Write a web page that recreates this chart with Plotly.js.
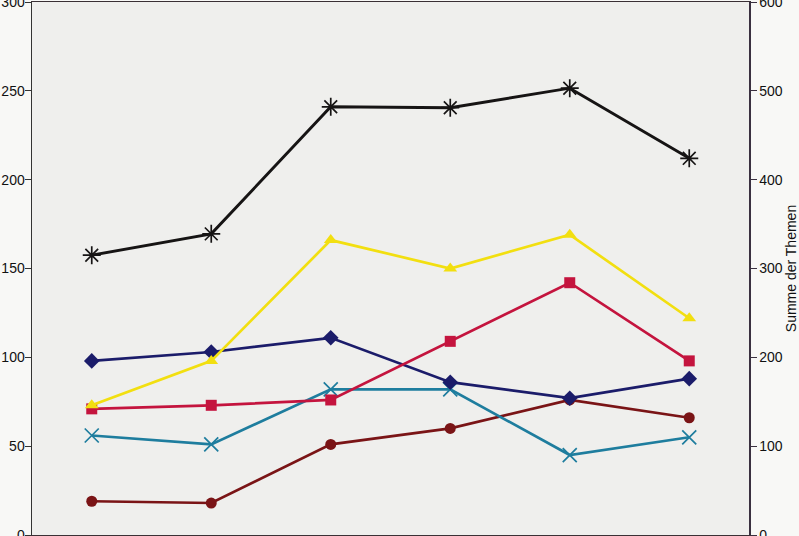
<!DOCTYPE html>
<html>
<head>
<meta charset="utf-8">
<script src="https://cdn.plot.ly/plotly-3.0.1.min.js"></script>
<style>
  html, body { margin: 0; padding: 0; overflow: hidden; background: #f8f8f6; }
  #chart { position: absolute; left: 0; top: 0; width: 799px; height: 560px; }
</style>
</head>
<body>
<div id="chart"></div>
<script>
// Categories (their labels lie outside the visible frame)
const categories = ["1", "2", "3", "4", "5", "6"];

// Series on the left axis
const navySeries    = [98, 103, 111, 86, 77, 88];
const yellowSeries  = [73, 98, 166, 150, 169, 122];
const redSeries     = [71, 73, 76, 109, 142, 98];
const tealSeries    = [56, 51, 82, 82, 45, 55];
const darkredSeries = [19, 18, 51, 60, 76, 66];

// Series on the right axis ("Summe der Themen")
const sumSeries = [315, 339, 482, 481, 503, 424];

const leftTicks  = [0, 50, 100, 150, 200, 250, 300];
const rightTicks = [0, 100, 200, 300, 400, 500, 600];
const rightTitle = "Summe der Themen";

function series(y, color, symbol, size, axis, lineWidth) {
  return {
    x: categories, y: y, type: "scatter", mode: "lines+markers",
    yaxis: axis,
    line: { color: color, width: lineWidth || 2.7 },
    marker: { color: color, symbol: symbol, size: size,
              line: { color: color, width: (symbol.indexOf("open") >= 0 ? 1.7 : 0) } },
    cliponaxis: false, hoverinfo: "y", showlegend: false
  };
}

const traces = [
  series(darkredSeries, "#7a1416", "circle", 11, "y"),
  series(tealSeries, "#1e7d9e", "x-thin-open", 14, "y"),
  series(navySeries, "#1b1c6a", "diamond", 12, "y"),
  series(redSeries, "#c4143e", "square", 11, "y"),
  series(yellowSeries, "#f2df10", "triangle-up", 12, "y"),
  series(sumSeries, "#161414", "asterisk-open", 15, "y2", 2.9)
];

const tickFont = { family: "Liberation Sans, Arial, sans-serif", size: 14, color: "#111111" };

const layout = {
  width: 799, height: 560,
  margin: { l: 32, r: 50, t: 2, b: 25, pad: 0 },
  paper_bgcolor: "#f8f8f6",
  plot_bgcolor: "#efefed",
  showlegend: false,
  xaxis: {
    type: "category",
    range: [-0.5, 5.5],
    showticklabels: false,
    tickson: "boundaries",
    ticks: "outside", ticklen: 6, tickcolor: "#3a3035",
    showline: true, linecolor: "#3a3035", linewidth: 1.5, mirror: true,
    showgrid: false, zeroline: false, fixedrange: true
  },
  yaxis: {
    range: [0, 300],
    tickvals: leftTicks,
    ticks: "outside", ticklen: 6, tickcolor: "#333333",
    ticklabelstandoff: -3,
    ticklabeloverflow: "allow",
    showline: true, linecolor: "#333333", linewidth: 1.5,
    showgrid: false, zeroline: false,
    tickfont: tickFont, fixedrange: true
  },
  yaxis2: {
    range: [0, 600],
    tickvals: rightTicks,
    overlaying: "y", side: "right",
    ticks: "outside", ticklen: 6, tickcolor: "#3a3040",
    ticklabeloverflow: "allow",
    showline: true, linecolor: "#3a3040", linewidth: 1.5,
    showgrid: false, zeroline: false,
    tickfont: tickFont, fixedrange: true,
    title: { text: rightTitle, standoff: 5,
             font: { family: "Liberation Sans, Arial, sans-serif", size: 14, color: "#111111" } }
  }
};

Plotly.newPlot("chart", traces, layout, { displayModeBar: false, staticPlot: true });
</script>
</body>
</html>
